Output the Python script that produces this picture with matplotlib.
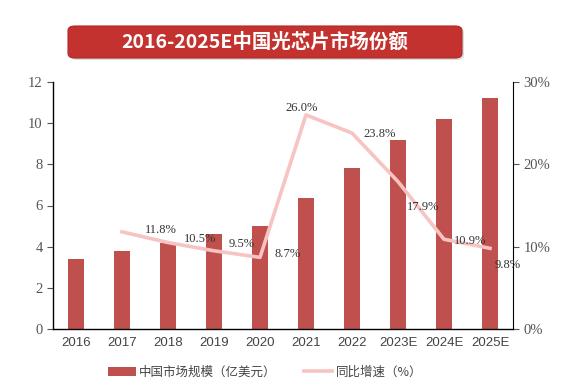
import matplotlib.pyplot as plt
from matplotlib.patches import FancyBboxPatch
import numpy as np

# 数据
years = ['2016', '2017', '2018', '2019', '2020', '2021', '2022', '2023E', '2024E', '2025E']
market_size = [3.4, 3.8, 4.2, 4.6, 5.0, 6.35, 7.8, 9.2, 10.2, 11.2]
growth_years = ['2017', '2018', '2019', '2020', '2021', '2022', '2023E', '2024E', '2025E']
growth_rate = [11.8, 10.5, 9.5, 8.7, 26.0, 23.8, 17.9, 10.9, 9.8]
# 标签偏移 (points)
label_offsets = [(28, 1), (23, 2.5), (20, 5), (20, 2.5), (-3, 5), (20, -1), (18, -18.5), (19, -1.5), (12.5, -12)]

bar_color = '#C0504D'
line_color = '#F7C3C3'
serif = ['Liberation Serif', 'DejaVu Serif']
cjk = ['Noto Sans CJK SC', 'DejaVu Sans']

fig = plt.figure(figsize=(5.65, 3.85), dpi=100)
ax = fig.add_axes([53 / 565, 1 - 329 / 385, 460 / 565, 247 / 385])

x = np.arange(len(years))
bars = ax.bar(x, market_size, width=0.34, color=bar_color, label='中国市场规模（亿美元）', zorder=2)
ax.set_xlim(-0.5, len(years) - 0.5)
ax.set_ylim(0, 12)
ax.set_yticks(range(0, 13, 2))
ax.set_xticks(x)
ax.set_xticklabels(years, fontsize=9.5, color='#444444', family=['Liberation Sans', 'DejaVu Sans'])
for lab in ax.get_yticklabels():
    lab.set_fontfamily(serif)
    lab.set_fontsize(10.5)
    lab.set_color('#555555')
ax.tick_params(axis='x', length=0, pad=6)
ax.tick_params(axis='y', direction='out', length=4, color='#555555')
ax.spines['top'].set_visible(False)
ax.spines['right'].set_visible(False)
for s in ['left', 'bottom']:
    ax.spines[s].set_color('black')
    ax.spines[s].set_linewidth(1.0)

ax2 = ax.twinx()
gx = [years.index(y) for y in growth_years]
line, = ax2.plot(gx, growth_rate, color=line_color, lw=2.6, label='同比增速（%）', zorder=3)
ax2.set_ylim(0, 30)
ax2.set_yticks([0, 10, 20, 30])
ax2.set_yticklabels(['0%', '10%', '20%', '30%'], fontfamily=serif, fontsize=10.5, color='#555555')
ax2.tick_params(axis='y', direction='out', length=4, color='#555555')
ax2.spines['top'].set_visible(False)
ax2.spines['left'].set_visible(False)
ax2.spines['bottom'].set_visible(False)
ax2.spines['right'].set_color('black')

for xi, v, off in zip(gx, growth_rate, label_offsets):
    ax2.annotate(f'{v:.1f}%', xy=(xi, v), xytext=off, textcoords='offset points',
                 ha='center', va='center', fontsize=9, family=serif, color='#333333')

# 标题框
shadow = FancyBboxPatch((70 / 565, 1 - 60 / 385), 394 / 565, 32 / 385,
                        boxstyle='round,pad=0,rounding_size=0.012', transform=fig.transFigure,
                        facecolor='#dddddd', edgecolor='none', zorder=1)
box = FancyBboxPatch((68 / 565, 1 - 58 / 385), 394 / 565, 32 / 385,
                     boxstyle='round,pad=0,rounding_size=0.012', transform=fig.transFigure,
                     facecolor='#C3322E', edgecolor='#B02A26', lw=0.8, zorder=2)
fig.patches.extend([shadow, box])
fig.text(265 / 565, 1 - 42 / 385, '2016-2025E中国光芯片市场份额', ha='center', va='center',
         fontsize=14, fontweight='bold', color='white', family=cjk, zorder=3)

leg = fig.legend(handles=[bars, line], loc='center', bbox_to_anchor=(265 / 565, 1 - 372 / 385),
                 ncol=2, frameon=False, prop={'family': cjk, 'size': 9},
                 handlelength=2.2, columnspacing=2.2, handletextpad=0.3)
for t in leg.get_texts():
    t.set_color('#444444')

fig.savefig('out.png', dpi=100, facecolor='white')
